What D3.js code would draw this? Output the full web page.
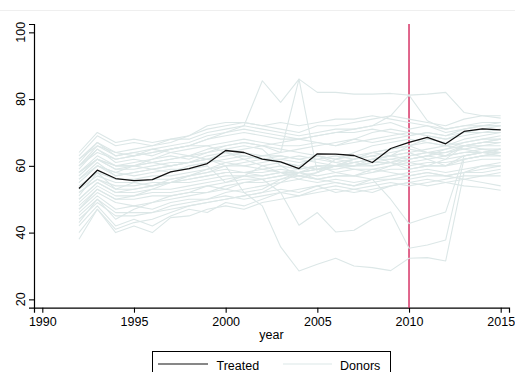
<!DOCTYPE html>
<html>
<head>
<meta charset="utf-8">
<script src="https://cdn.jsdelivr.net/npm/d3@7/dist/d3.min.js"></script>
<style>
  html, body { margin: 0; padding: 0; background: #fff; }
  svg { display: block; font-family: "Liberation Sans", Arial, Helvetica, sans-serif; }
</style>
</head>
<body>
<svg id="chart" width="515" height="372"></svg>
<script>
// ---------- DATA ----------
const years = d3.range(1992, 2016);
const xTicks = [1990, 1995, 2000, 2005, 2010, 2015];
const yTicks = [20, 40, 60, 80, 100];
const treatmentYear = 2010;

const treated = [53.2, 58.7, 56.2, 55.6, 55.9, 58.2, 59.2, 60.7, 64.6, 64.0, 62.0, 61.2,
                 59.2, 63.6, 63.5, 63.1, 61.0, 65.2, 67.0, 68.5, 66.6, 70.3, 71.1, 70.8];

const donors = [
  [63,69,66,67,66,68,69,72,73,73,72,71,70,72,72,73,74,75,74,73,72,74,75,75],
  [64,70,67,68,67,68,68,70,71,72,71,70,69,70,71,71,72,73,71,72,71,72,72,73],
  [62,66,64,65,66,67,69,71,72,73,72,73,72,73,74,74,75,74,73,72,70,71,72,72],
  [61,67,63,64,63,65,66,68,69,70,69,68,68,69,70,70,71,70,69,70,69,70,71,72],
  [60,64,62,63,64,65,66,66,67,68,67,66,66,67,66,67,68,69,70,69,68,70,70,71],
  [58,63,60,61,62,63,62,64,65,66,65,60,57,58,62,64,66,67,68,67,66,68,69,70],
  [57,62,59,59,60,61,61,62,63,64,63,63,62,63,62,63,64,65,66,67,66,67,68,68],
  [56,61,57,58,59,58,60,61,62,63,62,62,61,62,63,62,63,64,65,64,63,66,66,67],
  [55,60,58,57,58,59,59,60,55,57,60,61,60,63,61,62,64,63,66,64,64,65,66,66],
  [54,58,56,56,57,57,58,59,60,60,59,60,59,60,60,61,62,62,61,62,63,64,64,65],
  [53,57,55,55,56,56,57,58,59,58,58,59,58,59,60,60,61,61,62,63,62,63,64,64],
  [59,65,61,62,61,62,63,65,66,67,66,65,64,63,62,61,60,61,63,64,65,67,68,69],
  [52,56,54,54,55,55,56,57,58,58,57,58,58,59,59,60,60,61,60,61,61,62,63,64],
  [58,62,60,60,61,60,61,62,64,63,62,61,60,59,60,62,63,61,59,60,62,66,67,68],
  [50,55,52,52,53,53,54,55,56,57,57,58,59,60,60,60,61,62,63,64,63,64,65,65],
  [49,54,51,51,52,52,53,54,55,56,56,57,58,57,58,59,59,60,61,60,60,62,63,63],
  [48,53,50,50,51,51,52,52,54,55,55,56,57,56,57,57,58,59,59,60,60,61,62,62],
  [47,52,49,48,49,50,51,52,53,52,53,56,58,56,57,57,59,58,57,58,57,56,55,54],
  [46,51,47,48,47,49,50,50,52,53,54,55,56,55,56,55,56,57,58,59,58,59,60,60],
  [45,50,46,46,46,47,48,49,50,51,52,55,58,60,58,57,56,56,57,58,57,58,60,61],
  [44,49,45,45,46,48,49,50,51,50,51,52,53,54,55,54,55,56,56,57,57,58,58,59],
  [42,48,42,44,42,45,47,46,49,48,50,52,51,53,54,53,52,54,55,56,55,54,53.5,52.7],
  [40,47,41,43,44,46,48,49,50,51,52,53,52,54,52,53,54,55,54,55,56,57,57,58],
  [38,47,40,42,40,44.5,45,47,48,47,49,50,51,52,53,52,53,54,55,54,55,56,57,57],
  [62,67,64,63,65,64,63,62,61,60,61,62,63,62,61,60,62,63,64,62,60,63,64,65],
  [51,58,53,55,54,56,57,59,61,62,63,64,65,66,67,68,67,68,69,70,69,71,72,72],
  [56,60,58,60,62,64,65,66,64,62,60,58,56,58,60,62,64,65,66,68,67,66,65,64],
  [47,53,50,51,53,55,57,58,60,61,62,63,62,61,60,59,58,60,62,63,65,66,67,67],
  [43,50,44,47,49,51,52,54,53,55,56,57,58,59,60,61,62,63,64,65,66,65,64,63],
  [60,66,63,64,65,66,67,69,70,71,70,69,68,67,66,68,70,71,70,69,68,69,70,70],
  [60,65,62,63,64,65,66,68,70,72,85.5,79,86,82,82,81.5,81.5,81.7,81.2,81.5,82,76,75,74.3],
  [57,62,59,60,61,62,63,64,66,67,66,64,86,58,60,61,62,63,62,63,64,66,67,68],
  [55,60,57,58,59,60,61,63,64,65,66,67,68,69,70,71,72,75,81.2,73.5,71,72,73,73],
  [58,62,60,60,59,60,61,62,60,52,48,35.7,28.5,30.5,32.3,30,29.5,28.6,32.3,32.5,31.5,58,59,60],
  [52,56,53,53,54,55,55,56,57,57,56,52,42.2,46,40.2,40.7,44,46.2,35.3,36.3,37.8,62,63,64],
  [50,55,52,53,54,55,56,57,58,58,59,58,57,56,55,54,56,50,42.7,44.5,46.2,63,64,65]
];

// ---------- LAYOUT ----------
const svg = d3.select("#chart");
const W = 515, H = 372;
const x = d3.scaleLinear().domain([1989.547, 2015.453]).range([34, 509]);
const y = d3.scaleLinear().domain([17.5, 102.5]).range([307.7, 24.0]);
const font = 12.5;
const donorColor = "#dce7e7";

// faint outer border line at top
svg.append("line").attr("x1", 0).attr("x2", W).attr("y1", 10.5).attr("y2", 10.5)
  .attr("stroke", "#efefef").attr("stroke-width", 1);

// X axis
const gx = svg.append("g").attr("transform", `translate(0,${y.range()[0]})`)
  .call(d3.axisBottom(x).tickValues(xTicks).tickFormat(d3.format("d")).tickSizeOuter(0).tickSize(5).tickPadding(4));
gx.select(".domain").attr("stroke", "#000").attr("stroke-width", 1.2);
gx.selectAll(".tick line").attr("stroke", "#000").attr("stroke-width", 1.1);
gx.selectAll(".tick text").attr("font-size", font).attr("fill", "#000")
  .attr("font-family", "Liberation Sans, Arial, sans-serif");

// Y axis
const gy = svg.append("g").attr("transform", `translate(${x.range()[0]},0)`)
  .call(d3.axisLeft(y).tickValues(yTicks).tickSizeOuter(0).tickSize(5).tickFormat(""));
gy.select(".domain").attr("stroke", "#000").attr("stroke-width", 1.2);
gy.selectAll(".tick line").attr("stroke", "#000").attr("stroke-width", 1.1);
gy.selectAll(".tick text").remove();
svg.append("g").selectAll("text").data(yTicks).join("text")
  .attr("transform", d => `translate(25,${y(d)}) rotate(-90)`)
  .attr("text-anchor", "middle")
  .attr("font-size", font)
  .attr("fill", "#000")
  .text(d => d);

// x-axis title
svg.append("text").attr("x", (x.range()[0] + x.range()[1]) / 2).attr("y", 339)
  .attr("text-anchor", "middle").attr("font-size", font).attr("fill", "#000").text("year");

// Treatment line
svg.append("line")
  .attr("x1", x(treatmentYear)).attr("x2", x(treatmentYear))
  .attr("y1", y.range()[1]).attr("y2", y.range()[0])
  .attr("stroke", "#d0154f").attr("stroke-width", 1.3);

const line = d3.line().x((d, i) => x(years[i])).y(d => y(d));

// Donors
svg.append("g").selectAll("path").data(donors).join("path")
  .attr("d", line).attr("fill", "none")
  .attr("stroke", donorColor).attr("stroke-width", 1.1).attr("stroke-linejoin", "round");

// Treated
svg.append("path").datum(treated).attr("d", line).attr("fill", "none")
  .attr("stroke", "#111").attr("stroke-width", 1.3).attr("stroke-linejoin", "round");

// Legend
const lg = svg.append("g");
lg.append("rect").attr("x", 152.5).attr("y", 351.5).attr("width", 238).attr("height", 30)
  .attr("fill", "#fff").attr("stroke", "#000").attr("stroke-width", 1);
const legendItems = [
  { label: "Treated", color: "#111", x1: 158, x2: 208, tx: 216.5 },
  { label: "Donors", color: donorColor, x1: 283, x2: 332, tx: 340 }
];
legendItems.forEach(it => {
  lg.append("line").attr("x1", it.x1).attr("x2", it.x2).attr("y1", 364).attr("y2", 364)
    .attr("stroke", it.color).attr("stroke-width", 1.2);
  lg.append("text").attr("x", it.tx).attr("y", 370).attr("font-size", font)
    .attr("fill", "#000").text(it.label);
});
</script>
</body>
</html>
